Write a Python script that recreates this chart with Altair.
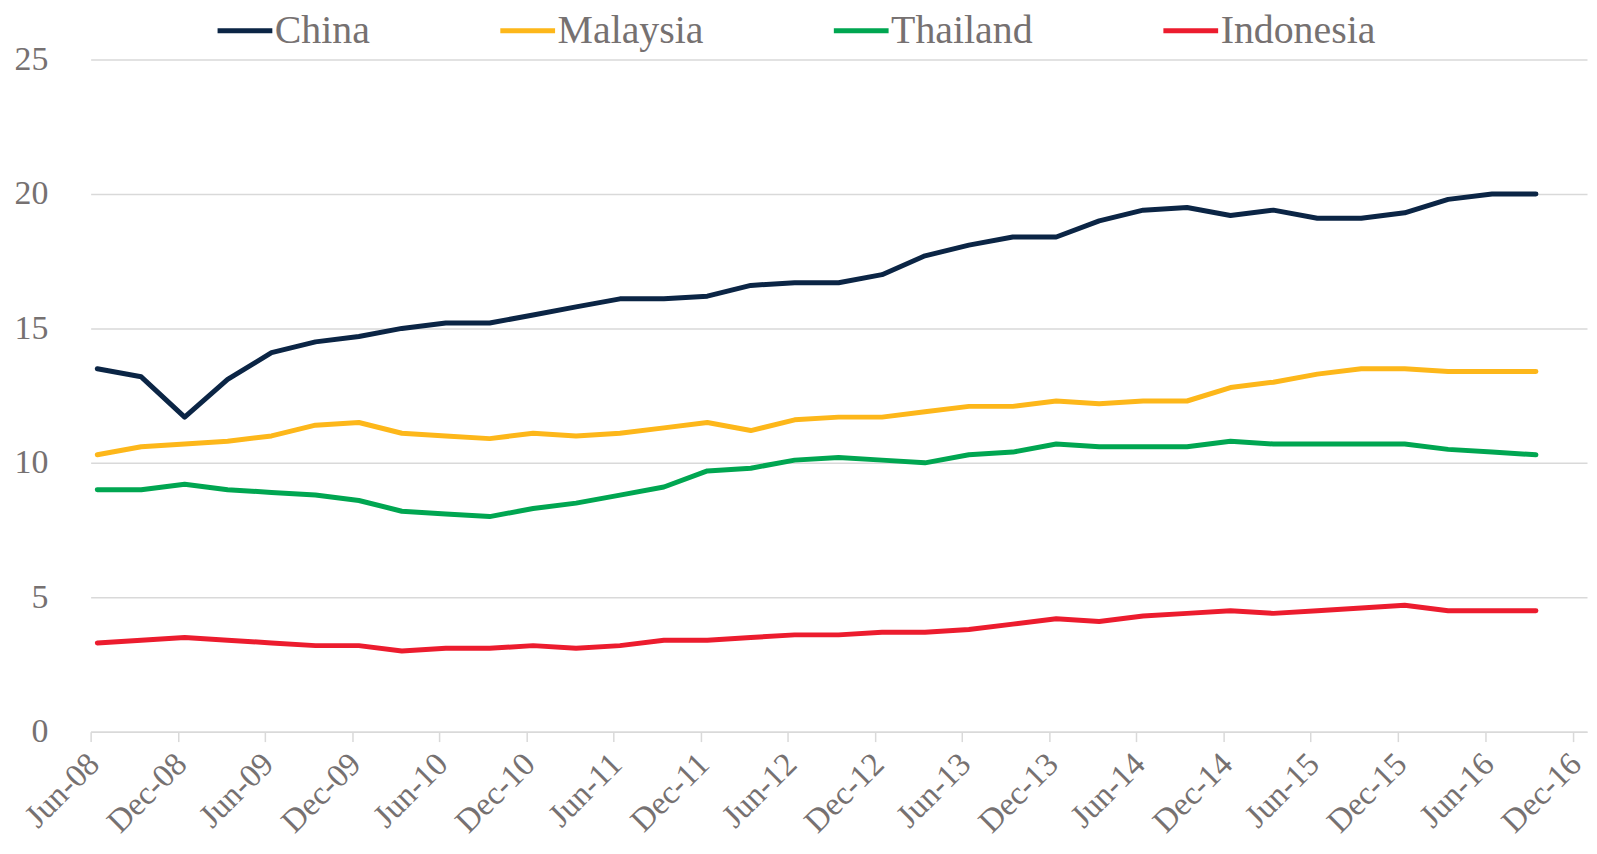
import altair as alt
import pandas as pd

quarters = [
    "2008-06", "2008-09", "2008-12", "2009-03", "2009-06", "2009-09", "2009-12",
    "2010-03", "2010-06", "2010-09", "2010-12", "2011-03", "2011-06", "2011-09",
    "2011-12", "2012-03", "2012-06", "2012-09", "2012-12", "2013-03", "2013-06",
    "2013-09", "2013-12", "2014-03", "2014-06", "2014-09", "2014-12", "2015-03",
    "2015-06", "2015-09", "2015-12", "2016-03", "2016-06", "2016-09",
]
china = [13.5, 13.2, 11.7, 13.1, 14.1, 14.5, 14.7, 15.0, 15.2, 15.2,
         15.5, 15.8, 16.1, 16.1, 16.2, 16.6, 16.7, 16.7, 17.0, 17.7,
         18.1, 18.4, 18.4, 19.0, 19.4, 19.5, 19.2, 19.4, 19.1, 19.1,
         19.3, 19.8, 20.0, 20.0]
malaysia = [10.3, 10.6, 10.7, 10.8, 11.0, 11.4, 11.5, 11.1, 11.0, 10.9,
            11.1, 11.0, 11.1, 11.3, 11.5, 11.2, 11.6, 11.7, 11.7, 11.9,
            12.1, 12.1, 12.3, 12.2, 12.3, 12.3, 12.8, 13.0, 13.3, 13.5,
            13.5, 13.4, 13.4, 13.4]
thailand = [9.0, 9.0, 9.2, 9.0, 8.9, 8.8, 8.6, 8.2, 8.1, 8.0,
            8.3, 8.5, 8.8, 9.1, 9.7, 9.8, 10.1, 10.2, 10.1, 10.0,
            10.3, 10.4, 10.7, 10.6, 10.6, 10.6, 10.8, 10.7, 10.7, 10.7,
            10.7, 10.5, 10.4, 10.3]
indonesia = [3.3, 3.4, 3.5, 3.4, 3.3, 3.2, 3.2, 3.0, 3.1, 3.1,
             3.2, 3.1, 3.2, 3.4, 3.4, 3.5, 3.6, 3.6, 3.7, 3.7,
             3.8, 4.0, 4.2, 4.1, 4.3, 4.4, 4.5, 4.4, 4.5, 4.6,
             4.7, 4.5, 4.5, 4.5]

series = ["China", "Malaysia", "Thailand", "Indonesia"]
colors = ["#0B2545", "#FDB71A", "#00A651", "#EC1C2E"]

tick_dates = [
    (2008, 6), (2008, 12), (2009, 6), (2009, 12), (2010, 6), (2010, 12),
    (2011, 6), (2011, 12), (2012, 6), (2012, 12), (2013, 6), (2013, 12),
    (2014, 6), (2014, 12), (2015, 6), (2015, 12), (2016, 6), (2016, 12),
]
y_ticks = [0, 5, 10, 15, 20, 25]

rows = []
for name, vals in zip(series, [china, malaysia, thailand, indonesia]):
    for q, v in zip(quarters, vals):
        rows.append({"date": q + "-15T00:00:00", "country": name, "value": v})
df = pd.DataFrame(rows)

FONT = "'Liberation Serif', 'DejaVu Serif', serif"
TXT = "#767171"
GRID = "#D9D9D9"

x_axis = alt.Axis(
    values=[alt.DateTime(year=y, month=m, date=1) for y, m in tick_dates],
    format="%b-%y",
    labelAngle=315,
    labelAlign="right",
    labelBaseline="middle",
    labelFont=FONT,
    labelFontSize=33,
    labelColor=TXT,
    labelPadding=17,
    labelOffset=3,
    labelFlush=False,
    labelOverlap=False,
    labelBound=False,
    tickSize=10,
    tickColor=GRID,
    tickWidth=1.5,
    domainColor=GRID,
    domainWidth=1.5,
    grid=False,
    title=None,
)

y_axis = alt.Axis(
    values=y_ticks,
    grid=True,
    gridColor=GRID,
    gridWidth=1.5,
    domain=False,
    ticks=False,
    tickSize=0,
    labelPadding=43,
    labelFont=FONT,
    labelFontSize=34,
    labelColor=TXT,
    title=None,
)

legend = alt.Legend(
    orient="none",
    legendX=125,
    legendY=-59,
    direction="horizontal",
    title=None,
    symbolType="stroke",
    symbolSize=3025,
    symbolStrokeWidth=5,
    labelFont=FONT,
    labelFontSize=40,
    labelColor=TXT,
    labelOffset=0,
    labelLimit=400,
    columnPadding=120,
    padding=0,
)

chart = alt.Chart(df).mark_line(
    strokeWidth=5, strokeCap="round", strokeJoin="round"
).encode(
    x=alt.X("date:T",
            scale=alt.Scale(domain=[alt.DateTime(year=2008, month=6, date=1),
                                    alt.DateTime(year=2016, month=12, date=31)]),
            axis=x_axis),
    y=alt.Y("value:Q", scale=alt.Scale(domain=[0, 25], nice=False), axis=y_axis),
    color=alt.Color("country:N",
                    scale=alt.Scale(domain=series, range=colors),
                    sort=series, legend=legend),
    detail="country:N",
).properties(
    width=1503,
    height=675,
    padding={"left": 83, "top": 50, "right": 2, "bottom": 107},
    autosize=alt.AutoSizeParams(type="none"),
).configure_view(stroke=None)

chart.save("out.html", embed_options={"renderer": "svg", "actions": False})
